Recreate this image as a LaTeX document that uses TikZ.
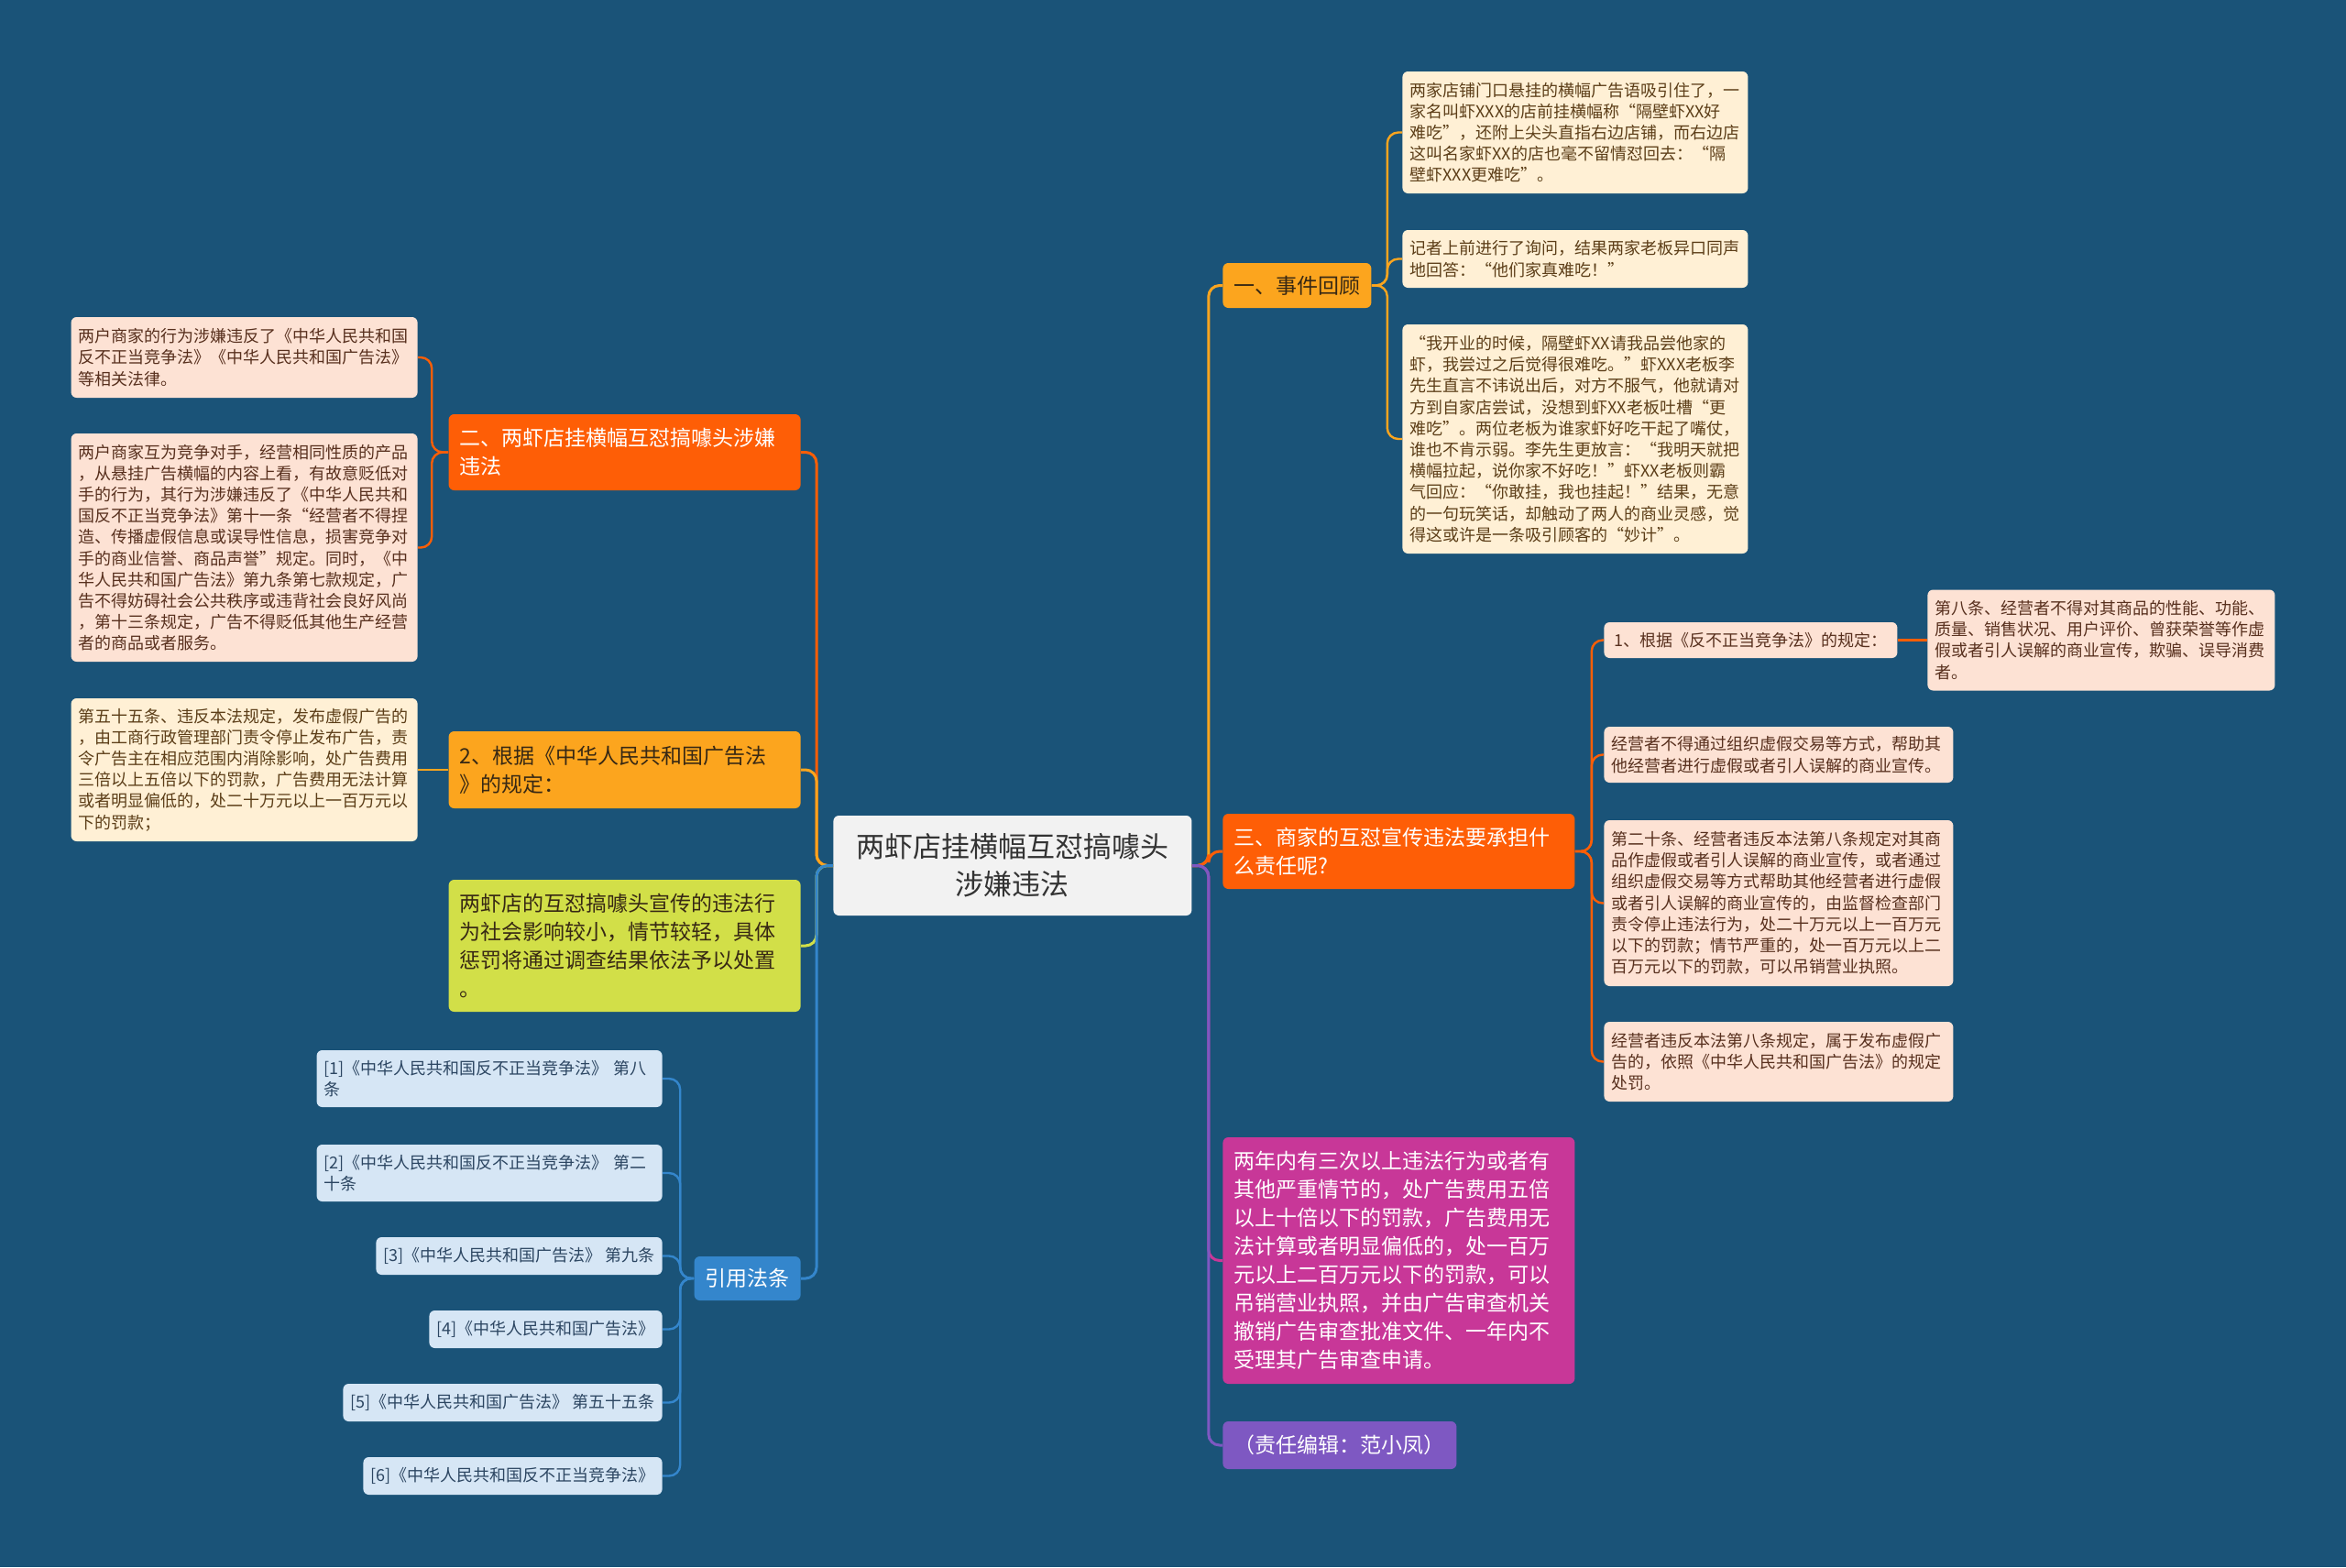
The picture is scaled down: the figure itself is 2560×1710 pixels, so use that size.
\documentclass[tikz,border=0pt]{standalone}
\usepackage{fontspec}
\newfontfamily\cjk{Noto Sans CJK SC}

\definecolor{bg}{RGB}{26,83,120}
\definecolor{rootfill}{RGB}{242,242,242}
\definecolor{roottext}{RGB}{51,51,51}
\definecolor{amber}{RGB}{252,165,30}
\definecolor{redorange}{RGB}{254,94,6}
\definecolor{lime}{RGB}{210,223,72}
\definecolor{magenta2}{RGB}{200,55,152}
\definecolor{violet2}{RGB}{126,88,194}
\definecolor{refblue}{RGB}{52,134,204}
\definecolor{cream}{RGB}{255,240,213}
\definecolor{peach}{RGB}{253,226,212}
\definecolor{paleblue}{RGB}{214,230,245}
\definecolor{brown}{RGB}{92,62,24}
\definecolor{darkbrown}{RGB}{88,48,30}
\definecolor{darktext}{RGB}{55,40,20}
\definecolor{reftext}{RGB}{44,70,98}

\begin{document}
\begin{tikzpicture}[x=0.5pt, y=-0.5pt,
    rootbox/.style = {fill=rootfill, text=roottext, rounded corners=3pt, align=center,
        inner sep=4pt, font=\cjk\fontsize{15.5}{20.4}\selectfont},
    branch/.style = {rounded corners=3pt, inner xsep=6pt, inner ysep=4pt, align=left,
        font=\cjk\fontsize{11.5}{15.5}\selectfont},
    leaf/.style = {rounded corners=3pt, inner xsep=4pt, inner ysep=3pt, align=left,
        font=\cjk\fontsize{9}{11.6}\selectfont},
    creamleaf/.style = {leaf, fill=cream, text=brown},
    peachleaf/.style = {leaf, fill=peach, text=darkbrown},
    refleaf/.style = {leaf, fill=paleblue, text=reftext},
    link/.style = {line width=1.5pt, rounded corners=6pt},
    sublink/.style = {line width=1.2pt, rounded corners=6pt}]

    \useasboundingbox (0,0) rectangle (2560,1710);
    \fill[bg] (0,0) rectangle (2560,1710);

    % centre
    \node[rootbox, anchor=west, minimum width=195.5pt, minimum height=54.5pt] (root) at (909,944.5)
        {两虾店挂横幅互怼搞噱头\\涉嫌违法};

    % right side
    \node[branch, fill=amber, text=darktext, anchor=west, minimum width=81pt, minimum height=24.5pt] (review) at (1334,311.5)
        {一、事件回顾};
    \node[creamleaf, anchor=west, text width=180.5pt, minimum height=66.5pt] (review1) at (1530,144.5)
        {两家店铺门口悬挂的横幅广告语吸引住了，一\\家名叫虾XXX的店前挂横幅称“隔壁虾XX好\\难吃”，还附上尖头直指右边店铺，而右边店\\这叫名家虾XX的店也毫不留情怼回去：“隔\\壁虾XXX更难吃”。};
    \node[creamleaf, anchor=west, text width=180.5pt, minimum height=31.5pt] (review2) at (1530,282.5)
        {记者上前进行了询问，结果两家老板异口同声\\地回答：“他们家真难吃！”};
    \node[creamleaf, anchor=west, text width=180.5pt, minimum height=125pt] (review3) at (1530,479)
        {“我开业的时候，隔壁虾XX请我品尝他家的\\虾，我尝过之后觉得很难吃。”虾XXX老板李\\先生直言不讳说出后，对方不服气，他就请对\\方到自家店尝试，没想到虾XX老板吐槽“更\\难吃”。两位老板为谁家虾好吃干起了嘴仗，\\谁也不肯示弱。李先生更放言：“我明天就把\\横幅拉起，说你家不好吃！”虾XX老板则霸\\气回应：“你敢挂，我也挂起！”结果，无意\\的一句玩笑话，却触动了两人的商业灵感，觉\\得这或许是一条吸引顾客的“妙计”。};

    \node[branch, fill=redorange, text=white, anchor=west, text width=180pt, minimum height=41pt] (duty) at (1334,929)
        {三、商家的互怼宣传违法要承担什\\么责任呢?};
    \node[peachleaf, anchor=west, minimum width=160pt, minimum height=19.5pt] (duty1) at (1750,698.5)
        {1、根据《反不正当竞争法》的规定：};
    \node[peachleaf, anchor=west, text width=181.5pt, minimum height=55pt] (art8) at (2103,698.5)
        {第八条、经营者不得对其商品的性能、功能、\\质量、销售状况、用户评价、曾获荣誉等作虚\\假或者引人误解的商业宣传，欺骗、误导消费\\者。};
    \node[peachleaf, anchor=west, text width=182.5pt, minimum height=30.5pt] (duty2) at (1750,823.5)
        {经营者不得通过组织虚假交易等方式，帮助其\\他经营者进行虚假或者引人误解的商业宣传。};
    \node[peachleaf, anchor=west, text width=182.5pt, minimum height=90.5pt] (duty3) at (1750,985.5)
        {第二十条、经营者违反本法第八条规定对其商\\品作虚假或者引人误解的商业宣传，或者通过\\组织虚假交易等方式帮助其他经营者进行虚假\\或者引人误解的商业宣传的，由监督检查部门\\责令停止违法行为，处二十万元以上一百万元\\以下的罚款；情节严重的，处一百万元以上二\\百万元以下的罚款，可以吊销营业执照。};
    \node[peachleaf, anchor=west, text width=182.5pt, minimum height=43.5pt] (duty4) at (1750,1158.5)
        {经营者违反本法第八条规定，属于发布虚假广\\告的，依照《中华人民共和国广告法》的规定\\处罚。};

    \node[branch, fill=magenta2, text=white, anchor=west, text width=180pt, minimum height=134.5pt] (fine) at (1334,1375.5)
        {两年内有三次以上违法行为或者有\\其他严重情节的，处广告费用五倍\\以上十倍以下的罚款，广告费用无\\法计算或者明显偏低的，处一百万\\元以上二百万元以下的罚款，可以\\吊销营业执照，并由广告审查机关\\撤销广告审查批准文件、一年内不\\受理其广告审查申请。};
    \node[branch, fill=violet2, text=white, anchor=west, minimum width=127.5pt, minimum height=26pt] (editor) at (1334,1577)
        {（责任编辑：范小凤）};

    % left side
    \node[branch, fill=redorange, text=white, anchor=east, text width=180pt, minimum height=41.5pt] (illegal) at (874,493.5)
        {二、两虾店挂横幅互怼搞噱头涉嫌\\违法};
    \node[peachleaf, anchor=east, text width=181pt, minimum height=44pt] (illegal1) at (456,390)
        {两户商家的行为涉嫌违反了《中华人民共和国\\反不正当竞争法》《中华人民共和国广告法》\\等相关法律。};
    \node[peachleaf, anchor=east, text width=181pt, minimum height=124.5pt] (illegal2) at (456,597.5)
        {两户商家互为竞争对手，经营相同性质的产品\\，从悬挂广告横幅的内容上看，有故意贬低对\\手的行为，其行为涉嫌违反了《中华人民共和\\国反不正当竞争法》第十一条“经营者不得捏\\造、传播虚假信息或误导性信息，损害竞争对\\手的商业信誉、商品声誉”规定。同时，《中\\华人民共和国广告法》第九条第七款规定，广\\告不得妨碍社会公共秩序或违背社会良好风尚\\，第十三条规定，广告不得贬低其他生产经营\\者的商品或者服务。};

    \node[branch, fill=amber, text=darktext, anchor=east, text width=180pt, minimum height=42pt] (adlaw) at (874,840)
        {2、根据《中华人民共和国广告法\\》的规定：};
    \node[creamleaf, anchor=east, text width=181pt, minimum height=78pt] (art55) at (456,840)
        {第五十五条、违反本法规定，发布虚假广告的\\，由工商行政管理部门责令停止发布广告，责\\令广告主在相应范围内消除影响，处广告费用\\三倍以上五倍以下的罚款，广告费用无法计算\\或者明显偏低的，处二十万元以上一百万元以\\下的罚款；};

    \node[branch, fill=lime, text=darktext, anchor=east, text width=180pt, minimum height=72pt] (minor) at (874,1032)
        {两虾店的互怼搞噱头宣传的违法行\\为社会影响较小，情节较轻，具体\\惩罚将通过调查结果依法予以处置\\。};

    \node[branch, fill=refblue, text=white, anchor=east, minimum width=58pt, minimum height=24pt] (cite) at (874,1395)
        {引用法条};
    \node[refleaf, anchor=east, text width=180.5pt, minimum height=31pt] (ref1) at (723,1177)
        {[1]《中华人民共和国反不正当竞争法》 第八\\条};
    \node[refleaf, anchor=east, text width=180.5pt, minimum height=31pt] (ref2) at (723,1280)
        {[2]《中华人民共和国反不正当竞争法》 第二\\十条};
    \node[refleaf, anchor=east, minimum height=20.5pt] (ref3) at (723,1370.5)
        {[3]《中华人民共和国广告法》 第九条};
    \node[refleaf, anchor=east, minimum height=20.5pt] (ref4) at (723,1450.5)
        {[4]《中华人民共和国广告法》};
    \node[refleaf, anchor=east, minimum height=20.5pt] (ref5) at (723,1530.5)
        {[5]《中华人民共和国广告法》 第五十五条};
    \node[refleaf, anchor=east, minimum height=20.5pt] (ref6) at (723,1610.5)
        {[6]《中华人民共和国反不正当竞争法》};

    % connectors, right
    \draw[link, amber] (root.east) -- ++(18,0) |- (review.west);
    \draw[link, redorange] (root.east) -- ++(18,0) |- (duty.west);
    \draw[link, magenta2] (root.east) -- ++(18,0) |- (fine.west);
    \draw[link, violet2] (root.east) -- ++(18,0) |- (editor.west);

    \draw[sublink, amber] (review.east) -- ++(17,0) |- (review1.west);
    \draw[sublink, amber] (review.east) -- ++(17,0) |- (review2.west);
    \draw[sublink, amber] (review.east) -- ++(17,0) |- (review3.west);

    \draw[sublink, redorange] (duty.east) -- ++(18,0) |- (duty1.west);
    \draw[sublink, redorange] (duty.east) -- ++(18,0) |- (duty2.west);
    \draw[sublink, redorange] (duty.east) -- ++(18,0) |- (duty3.west);
    \draw[sublink, redorange] (duty.east) -- ++(18,0) |- (duty4.west);
    \draw[sublink, redorange] (duty1.east) -- (art8.west);

    % connectors, left
    \draw[link, redorange] (root.west) -- ++(-18,0) |- (illegal.east);
    \draw[link, amber] (root.west) -- ++(-18,0) |- (adlaw.east);
    \draw[link, lime] (root.west) -- ++(-18,0) |- (minor.east);
    \draw[link, refblue] (root.west) -- ++(-18,0) |- (cite.east);

    \draw[sublink, redorange] (illegal.west) -- ++(-18,0) |- (illegal1.east);
    \draw[sublink, redorange] (illegal.west) -- ++(-18,0) |- (illegal2.east);
    \draw[sublink, amber] (adlaw.west) -- (art55.east);

    \draw[sublink, refblue] (cite.west) -- ++(-15,0) |- (ref1.east);
    \draw[sublink, refblue] (cite.west) -- ++(-15,0) |- (ref2.east);
    \draw[sublink, refblue] (cite.west) -- ++(-15,0) |- (ref3.east);
    \draw[sublink, refblue] (cite.west) -- ++(-15,0) |- (ref4.east);
    \draw[sublink, refblue] (cite.west) -- ++(-15,0) |- (ref5.east);
    \draw[sublink, refblue] (cite.west) -- ++(-15,0) |- (ref6.east);
\end{tikzpicture}
\end{document}
